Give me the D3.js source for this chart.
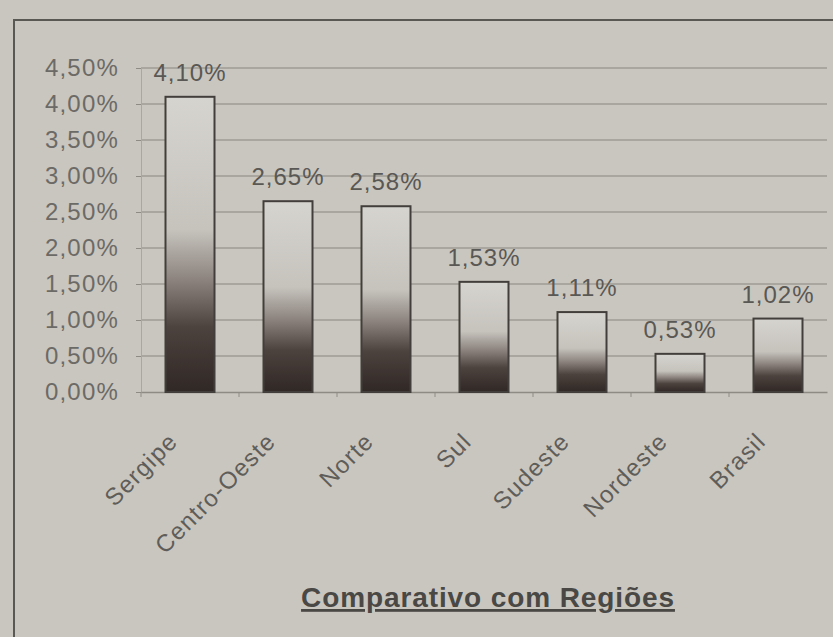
<!DOCTYPE html>
<html>
<head>
<meta charset="utf-8">
<script src="https://cdn.jsdelivr.net/npm/d3@7"></script>
<style>
  html, body { margin: 0; padding: 0; background: #c9c6bf; }
  svg { display: block; }
</style>
</head>
<body>
<script>
// Data:
const regions = ["Sergipe", "Centro-Oeste", "Norte", "Sul", "Sudeste", "Nordeste", "Brasil"];
const rates = [4.10, 2.65, 2.58, 1.53, 1.11, 0.53, 1.02];
const yTicks = [0, 0.5, 1, 1.5, 2, 2.5, 3, 3.5, 4, 4.5];
const chartTitle = "Comparativo com Regiões";

// Variable setup:
const width = 833;
const height = 637;
const plotLeft = 141;
const plotRight = 827;
const plotTop = 68;
const plotBottom = 392;
const font = "Liberation Sans, Arial, sans-serif";

const fmt = (v) => v.toFixed(2).replace(".", ",") + "%";

const svg = d3.select("body")
  .append("svg")
  .attr("width", width)
  .attr("height", height);

// Gradient for bars:
const defs = svg.append("defs");
const grad = defs.append("linearGradient")
  .attr("id", "barGrad")
  .attr("x1", 0).attr("y1", 0).attr("x2", 0).attr("y2", 1);
grad.append("stop").attr("offset", "0%").attr("stop-color", "#d6d4cf");
grad.append("stop").attr("offset", "45%").attr("stop-color", "#c6c3bd");
grad.append("stop").attr("offset", "62%").attr("stop-color", "#8c837e");
grad.append("stop").attr("offset", "78%").attr("stop-color", "#4c423e");
grad.append("stop").attr("offset", "100%").attr("stop-color", "#302825");

// Frame:
svg.append("path")
  .attr("d", `M14,${height} L14,20 L${width},20`)
  .attr("fill", "none")
  .attr("stroke", "#5a5853")
  .attr("stroke-width", 2);

// Scales:
const xScale = d3.scaleBand()
  .domain(regions)
  .range([plotLeft, plotRight])
  .paddingInner(0.5)
  .paddingOuter(0.25);

const yScale = d3.scaleLinear()
  .domain([0, 4.5])
  .range([plotBottom, plotTop]);

// Gridlines:
svg.append("g")
  .selectAll("line")
  .data(yTicks.slice(1))
  .enter()
  .append("line")
  .attr("x1", plotLeft)
  .attr("x2", plotRight)
  .attr("y1", (d) => yScale(d))
  .attr("y2", (d) => yScale(d))
  .attr("stroke", "#9e9b94")
  .attr("stroke-width", 1.5);

// y-axis:
const yAxis = d3.axisLeft(yScale)
  .tickValues(yTicks)
  .tickSize(5)
  .tickPadding(17)
  .tickFormat(fmt);

const yG = svg.append("g")
  .attr("transform", `translate(${plotLeft}, 0)`)
  .call(yAxis);
yG.select(".domain").attr("stroke", "#aaa7a0").attr("stroke-width", 1);
yG.selectAll(".tick line").attr("stroke", "#8e8b85");
yG.selectAll("text")
  .attr("font-family", font)
  .attr("font-size", 24)
  .attr("letter-spacing", 1.2)
  .attr("fill", "#6c6a66");

// x-axis:
const xAxis = d3.axisBottom(xScale).tickSize(0).tickFormat("");
const xG = svg.append("g")
  .attr("transform", `translate(0, ${plotBottom})`)
  .call(xAxis);
xG.select(".domain").attr("stroke", "#8e8b85").attr("stroke-width", 1.5);

// Category separator ticks:
const step = xScale.step();
svg.append("g")
  .selectAll("line")
  .data(regions)
  .enter()
  .append("line")
  .attr("x1", (d) => xScale(d) - step * 0.25)
  .attr("x2", (d) => xScale(d) - step * 0.25)
  .attr("y1", plotBottom)
  .attr("y2", plotBottom + 5)
  .attr("stroke", "#8e8b85");

// Bars:
svg.append("g")
  .selectAll("rect")
  .data(regions)
  .enter()
  .append("rect")
  .attr("x", (d) => xScale(d))
  .attr("y", (d, i) => yScale(rates[i]))
  .attr("width", xScale.bandwidth())
  .attr("height", (d, i) => plotBottom - yScale(rates[i]))
  .attr("fill", "url(#barGrad)")
  .attr("stroke", "#423e3b")
  .attr("stroke-width", 2);

// Value labels:
svg.append("g")
  .selectAll("text")
  .data(regions)
  .enter()
  .append("text")
  .attr("x", (d) => xScale(d) + xScale.bandwidth() / 2)
  .attr("y", (d, i) => yScale(rates[i]) - 16)
  .attr("text-anchor", "middle")
  .attr("font-family", font)
  .attr("font-size", 24)
  .attr("letter-spacing", 1)
  .attr("fill", "#5a5854")
  .text((d, i) => fmt(rates[i]));

// Category labels:
svg.append("g")
  .selectAll("text")
  .data(regions)
  .enter()
  .append("text")
  .attr("transform", (d) => `translate(${xScale(d) + xScale.bandwidth() / 2 - 11}, ${plotBottom + 51}) rotate(-45)`)
  .attr("text-anchor", "end")
  .attr("font-family", font)
  .attr("font-size", 24)
  .attr("letter-spacing", 1.2)
  .attr("fill", "#5f5d59")
  .text((d) => d);

// Title:
svg.append("text")
  .attr("x", 488)
  .attr("y", 607)
  .attr("text-anchor", "middle")
  .attr("font-family", font)
  .attr("font-size", 28)
  .attr("font-weight", "bold")
  .attr("letter-spacing", 0.9)
  .attr("text-decoration", "underline")
  .attr("fill", "#4a4845")
  .text(chartTitle);
</script>
</body>
</html>
